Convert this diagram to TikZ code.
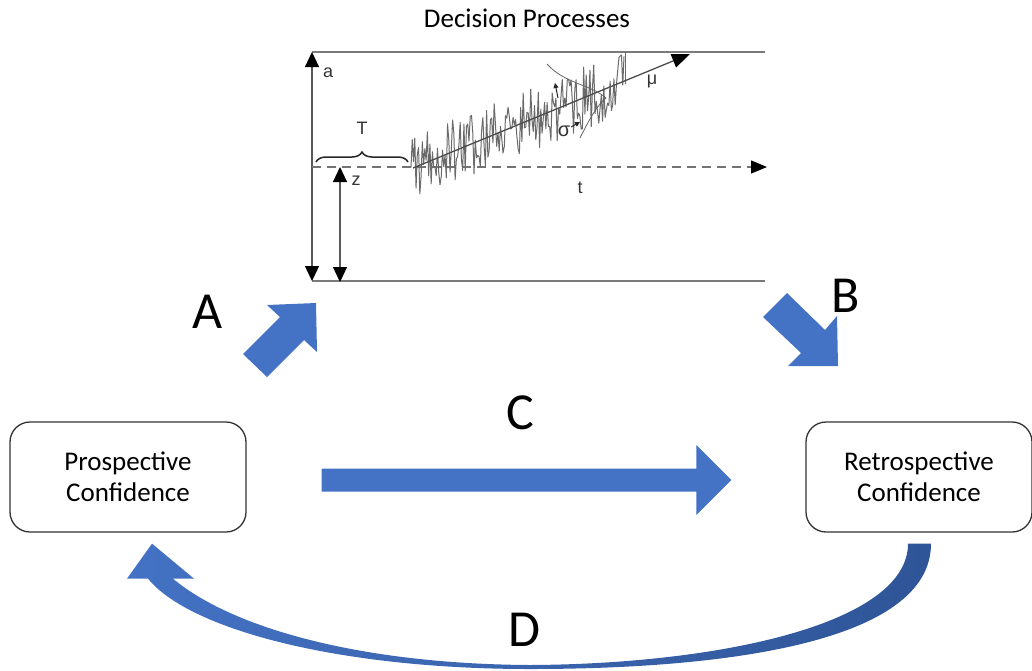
\documentclass[tikz,border=0pt]{standalone}
\usepackage{fontspec}
\setmainfont{Carlito}
\newfontfamily\plotfont{Liberation Sans}
\usetikzlibrary{arrows.meta,decorations.pathreplacing,calc}
\definecolor{arrowblue}{HTML}{4472C4}
\definecolor{arrowdark}{HTML}{2F5597}
\definecolor{axisgray}{HTML}{7A7A7A}
\definecolor{tracegray}{HTML}{6A6A6A}
\tikzset{
  confbox/.style={draw=black!80, line width=1.3pt, rounded corners=20pt,
    minimum height=110pt, align=center, inner sep=0pt,
    font=\fontsize{27}{31}\selectfont},
  blockarrow/.style={fill=arrowblue, draw=none},
  biglabel/.style={font=\fontsize{52}{56}\selectfont},
  panelline/.style={axisgray, line width=1.6pt},
  dimarrow/.style={black!65, line width=1.2pt,
    {Triangle[length=15pt,width=14pt,color=black]}-{Triangle[length=15pt,width=14pt,color=black]}},
  plotlabel/.style={font=\plotfont\fontsize{18}{20}\selectfont, inner sep=0pt, text=black!80},
}
\begin{document}
\begin{tikzpicture}[x=1pt,y=-1pt]
\useasboundingbox (0,0) rectangle (1032,670);

% ---- title ----
\node[font=\fontsize{27}{31}\selectfont] (title) at (527,18) {Decision Processes};

% ---- diffusion panel ----
\coordinate (ul) at (312,52);
\coordinate (ur) at (765,52);
\coordinate (ll) at (312,281);
\coordinate (lr) at (765,281);
\coordinate (zl) at (312,167);
\coordinate (zr) at (767,167);
\coordinate (zt) at (340,167);
\coordinate (zb) at (340,282);
\coordinate (drift0) at (413,168);
\coordinate (drift1) at (690,54);

\draw[panelline] (ul) -- (ur);
\draw[panelline] (ll) -- (lr);
\draw[dimarrow] (ul) -- (ll);
\draw[dimarrow] (zt) -- (zb);
\draw[black!55, line width=1.3pt, dash pattern=on 9pt off 6pt,
  -{Triangle[length=16pt,width=13pt,color=black]}] (zl) -- (zr);

% noisy evidence trace around the drift line
\pgfmathsetseed{5}
\draw[tracegray, line width=1pt, line join=round]
  plot[domain=411:624, samples=170] (\x, {168-0.41*(\x-413)+32*rand});
\draw[tracegray, line width=1pt] (625,52) -- (625,84);

% drift rate
\draw[black!70, line width=1.3pt, -{Triangle[length=18pt,width=14pt,color=black]}] (drift0) -- (drift1);

% sketched noise distribution
\draw[black!60, line width=0.8pt] (547,64) .. controls (565,84) and (590,84) .. (606,98);
\draw[black!60, line width=0.8pt] (580,138) .. controls (590,118) and (598,104) .. (606,98);
\draw[black!85, line width=1pt, -{Triangle[length=5pt,width=5pt]}] (558,98) -- (555,83);
\draw[black!85, line width=1pt, -{Triangle[length=5pt,width=5pt]}] (571,127) -- (580,122);

% non-decision time brace
\draw[black!85, line width=1.5pt, decoration={brace, amplitude=10pt}, decorate] (316,162) -- (408,162);

% panel labels
\node[plotlabel] (la) at (328,73) {a};
\node[plotlabel] (lT) at (362,128) {T};
\node[plotlabel] (lz) at (356,181) {z};
\node[plotlabel] (lt) at (580,188) {t};
\node[plotlabel] (lmu) at (652,81) {μ};
\node[plotlabel, font=\plotfont\fontsize{20}{22}\selectfont] (lsig) at (564,131) {σ};

% ---- confidence boxes ----
\node[confbox, minimum width=236pt] (pro) at (128,477) {Prospective\\Confidence};
\node[confbox, minimum width=226pt] (retro) at (919,477) {Retrospective\\Confidence};

% ---- arrow A: prospective confidence into decision ----
\fill[blockarrow] (316,303) -- (317,352) -- (304,340) -- (267,377) -- (243,354)
  -- (280,317) -- (267,305) -- cycle;
\node[biglabel] (labA) at (208,312) {A};

% ---- arrow B: decision into retrospective confidence ----
\fill[blockarrow] (838,366) -- (788,366) -- (801,353) -- (763,317) -- (787,293)
  -- (825,330) -- (837,316) -- cycle;
\node[biglabel] (labB) at (846,296) {B};

% ---- arrow C: prospective to retrospective ----
\coordinate (c0) at ($(pro.east)+(75,3)$);
\coordinate (c1) at ($(retro.west)+(-74,3)$);
\fill[blockarrow] ($(c0)+(0,-11.5)$) -- ($(c1)+(-35,-11.5)$) -- ($(c1)+(-35,-35)$)
  -- (c1) -- ($(c1)+(-35,35)$) -- ($(c1)+(-35,11.5)$) -- ($(c0)+(0,11.5)$) -- cycle;
\node[biglabel] (labC) at (520,413) {C};

% ---- arrow D: retrospective feeding back into prospective ----
\coordinate (d0) at ($(retro.south)+(-11,11)$);
\coordinate (d1) at ($(retro.south)+(12,11)$);
\coordinate (dtip) at ($(pro.south)+(24,11)$);
\shade[left color=arrowblue, right color=arrowdark]
  (d1) .. controls ($(d1)+(0,100)$) and (720,669) .. (530,669)
  .. controls (340,669) and (190,630) .. ($(dtip)+(-4,35)$)
  -- ($(dtip)+(-25,35)$) -- (dtip) -- ($(dtip)+(42,35)$) -- ($(dtip)+(21,35)$)
  .. controls (232,628) and (360,664) .. (530,665)
  .. controls (720,664) and ($(d0)+(0,80)$) .. (d0) -- cycle;
\node[biglabel] (labD) at (524,630) {D};
\end{tikzpicture}
\end{document}
